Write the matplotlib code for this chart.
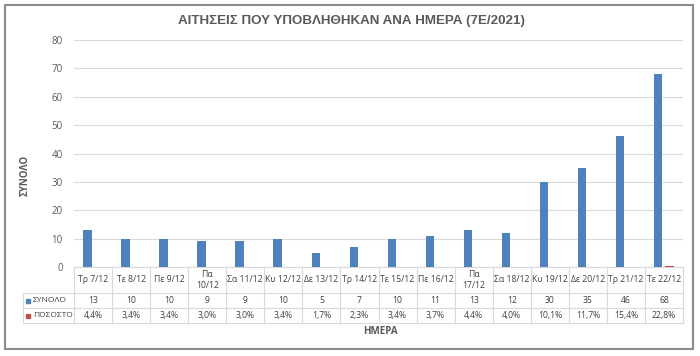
import numpy as np
import matplotlib
matplotlib.use("Agg")
import matplotlib.pyplot as plt
import matplotlib.transforms as mtransforms
from matplotlib.patches import Rectangle

plt.rcParams['font.family'] = ['Open Sans', 'DejaVu Sans']

# data
days = ['Τρ 7/12', 'Τε 8/12', 'Πε 9/12', 'Πα\n10/12', 'Σα 11/12', 'Κυ 12/12', 'Δε 13/12',
        'Τρ 14/12', 'Τε 15/12', 'Πε 16/12', 'Πα\n17/12', 'Σα 18/12', 'Κυ 19/12',
        'Δε 20/12', 'Τρ 21/12', 'Τε 22/12']
totals = [13, 10, 10, 9, 9, 10, 5, 7, 10, 11, 13, 12, 30, 35, 46, 68]
percents = [4.4, 3.4, 3.4, 3.0, 3.0, 3.4, 1.7, 2.3, 3.4, 3.7, 4.4, 4.0, 10.1, 11.7, 15.4, 22.8]
series_names = ['ΣΥΝΟΛΟ', 'ΠΟΣΟΣΤΟ']

blue = '#4F81BD'
red = '#C0504D'
grey_txt = '#595959'
line_col = '#D9D9D9'

fig = plt.figure(figsize=(7, 3.56), dpi=100)
ax = fig.add_axes([74 / 700, 1 - 267 / 356, (683 - 74) / 700, (267 - 40) / 356])

x = np.arange(len(days))
ax.bar(x - 0.15, totals, width=0.22, color=blue, zorder=3)
# percentages are plotted as fractions, so they barely show above zero
ax.bar(x + 0.15, [p / 100 for p in percents], width=0.22, color=red, zorder=3)

ax.set_xlim(-0.5, len(days) - 0.5)
ax.set_ylim(0, 80)
ax.set_yticks(range(0, 81, 10))
ax.tick_params(axis='y', length=0, labelsize=7, labelcolor=grey_txt, pad=8)
ax.set_xticks([])
ax.grid(axis='y', color=line_col, linewidth=0.8, zorder=0)
for s in ax.spines.values():
    s.set_visible(False)

# data table under the bars
trans = mtransforms.blended_transform_factory(ax.transData, ax.transAxes)
ax_h = 267 - 40
col_w = (683 - 74) / len(days)
h1 = -26 / ax_h
h2 = -41 / ax_h
h3 = -56 / ax_h
lab_left = -0.5 - (74 - 23) / col_w
edges = np.arange(-0.5, len(days))

kw = dict(transform=trans, clip_on=False, color=line_col, linewidth=0.8)
ax.plot([-0.5, len(days) - 0.5], [0, 0], **kw)
for yy in (h1, h2, h3):
    ax.plot([lab_left, len(days) - 0.5], [yy, yy], **kw)
for e in edges:
    ax.plot([e, e], [0, h3], **kw)
ax.plot([lab_left, lab_left], [h1, h3], **kw)

tkw = dict(transform=trans, clip_on=False, ha='center', va='center',
           fontsize=6.2, color='#404040')
for i, d in enumerate(days):
    ax.text(i, h1 / 2, d, linespacing=1.3, **tkw)
    ax.text(i, (h1 + h2) / 2, str(totals[i]), **tkw)
    ax.text(i, (h2 + h3) / 2, f'{percents[i]:.1f}%'.replace('.', ','), **tkw)

sq_x = -0.5 + (28 - 74) / col_w
txt_x = -0.5 + (33 - 74) / col_w
for yy, name, c in [((h1 + h2) / 2, series_names[0], blue), ((h2 + h3) / 2, series_names[1], red)]:
    ax.plot(sq_x, yy, marker='s', ms=3.2, color=c, transform=trans, clip_on=False, linestyle='none')
    ax.text(txt_x, yy, name, transform=trans, clip_on=False, ha='left', va='center',
            fontsize=6.0, color='#404040')

fig.text(351 / 700, 1 - 21 / 356, 'ΑΙΤΗΣΕΙΣ ΠΟΥ ΥΠΟΒΛΗΘΗΚΑΝ ΑΝΑ ΗΜΕΡΑ (7Ε/2021)',
         ha='center', va='center', fontsize=9.6, fontweight='bold', color=grey_txt,
         family=['Liberation Sans', 'DejaVu Sans'])
fig.text(25 / 700, 1 - 175 / 356, 'ΣΥΝΟΛΟ', rotation=90, ha='center', va='center',
         fontsize=7, fontweight='bold', color=grey_txt)
fig.text(380 / 700, 1 - 332 / 356, 'ΗΜΕΡΑ', ha='center', va='center',
         fontsize=7, fontweight='bold', color=grey_txt)

fig.patches.append(Rectangle((5 / 700, 1 - 349 / 356), 688 / 700, 344 / 356,
                             transform=fig.transFigure, fill=False,
                             edgecolor='#8C8C8C', linewidth=1.5))

fig.savefig('out.png', dpi=100)
